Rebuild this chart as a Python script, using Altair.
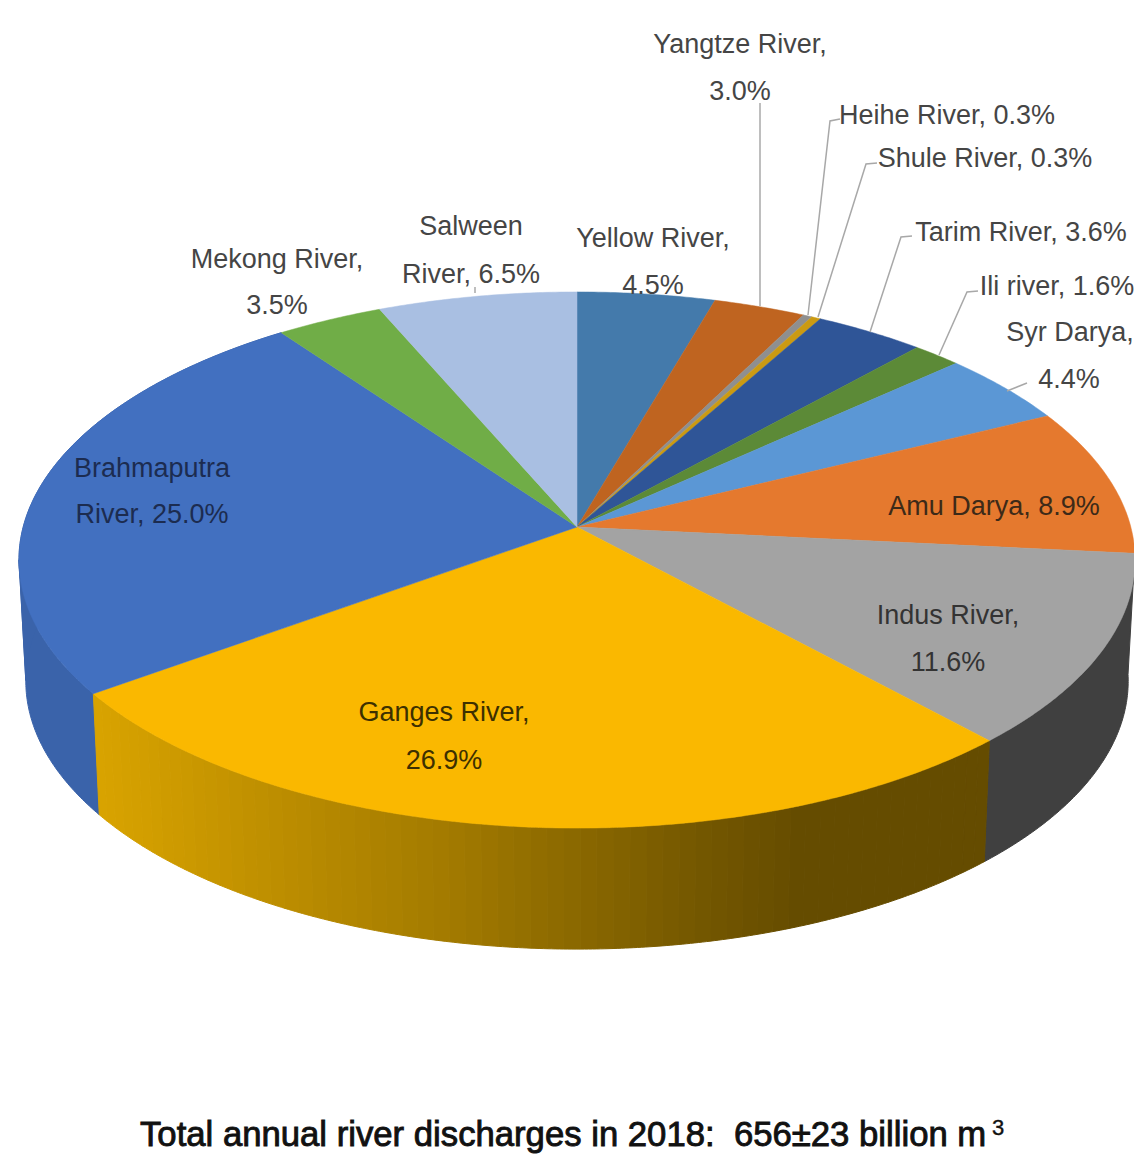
import math
import altair as alt

# River discharge shares in percent, clockwise from twelve o'clock
rivers = ["Yellow River", "Yangtze River", "Heihe River", "Shule River", "Tarim River",
          "Ili river", "Syr Darya", "Amu Darya", "Indus River", "Ganges River",
          "Brahmaputra River", "Mekong River", "Salween River"]
shares = [4.5, 3.0, 0.3, 0.3, 3.6, 1.6, 4.4, 8.9, 11.6, 26.9, 25.0, 3.5, 6.5]
top_colors = ["#447AAB", "#BF6420", "#8F8F8F", "#CB9A12", "#2F5597", "#5C8A37", "#5B97D5",
              "#E5792E", "#A3A3A3", "#FAB800", "#4270C0", "#70AD47", "#A9BFE2"]

# Side-wall colours for the slices that face the viewer
INDUS_WALL = "#404040"
BRAHMAPUTRA_WALL = "#3A63AA"
ganges_shade_x = [92, 200, 300, 450, 570, 700, 800, 990]
ganges_shade = ["#D9A400", "#C99700", "#B98B00", "#A27A00", "#8B6900", "#745700", "#654C00", "#654C00"]

# Perspective of the disc: centre, half-axes and foreshortening
CX, TOP_CY, A, B, K = 577, 527, 553.8, 264, 0.1232
BOTTOM_CY, BOTTOM_A, BOTTOM_B = 648, 547, 264
LEFT_SILHOUETTE = 263  # angle at which the rim turns away from the viewer

# Text lines: (text, river whose share fills {}, centre x, centre y, colour)
label_lines = [
    ("Yangtze River,", None, 740, 44, "#454545"),
    ("{}", "Yangtze River", 740, 91, "#454545"),
    ("Heihe River, {}", "Heihe River", 947, 115, "#454545"),
    ("Shule River, {}", "Shule River", 985, 158, "#454545"),
    ("Tarim River, {}", "Tarim River", 1021, 232, "#454545"),
    ("Ili river, {}", "Ili river", 1057, 286, "#454545"),
    ("Syr Darya,", None, 1070, 332, "#454545"),
    ("{}", "Syr Darya", 1069, 379, "#454545"),
    ("Amu Darya, {}", "Amu Darya", 994, 506, "#3D2A18"),
    ("Indus River,", None, 948, 615, "#333333"),
    ("{}", "Indus River", 948, 662, "#333333"),
    ("Ganges River,", None, 444, 712, "#3D3000"),
    ("{}", "Ganges River", 444, 760, "#3D3000"),
    ("Brahmaputra", None, 152, 468, "#1C2C50"),
    ("River, {}", "Brahmaputra River", 152, 514, "#1C2C50"),
    ("Mekong River,", None, 277, 259, "#454545"),
    ("{}", "Mekong River", 277, 305, "#454545"),
    ("Salween", None, 471, 226, "#454545"),
    ("River, {}", "Salween River", 471, 274, "#454545"),
    ("Yellow River,", None, 653, 238, "#454545"),
    ("{}", "Yellow River", 653, 285, "#454545"),
]

# Leader lines from labels to the rim
leaders = [
    [(760, 103), (760, 306)],
    [(840, 119), (830, 121), (808, 315)],
    [(877, 163), (866, 164), (818, 317)],
    [(912, 236), (901, 237), (870, 332)],
    [(978, 291), (967, 292), (939, 355)],
    [(1027, 383), (1007, 391)],
    [(475, 287), (475, 293)],
]

TITLE = "Total annual river discharges in 2018:\u00a0\u00a0656\u00b123 billion m"
TITLE_EXPONENT = "3"


def rim(theta_deg, cy, a, b):
    t = math.radians(theta_deg)
    u, v = math.sin(t), math.cos(t)
    w = 1 + K * v
    return [CX + a * u / w, cy - b * v / w]


def arc(t0, t1, cy, a, b):
    n = max(2, math.ceil((t1 - t0) / 0.5))
    return [rim(t0 + (t1 - t0) * i / n, cy, a, b) for i in range(n + 1)]


def polygon(points, fill):
    return {"type": "Feature", "properties": {"fill": fill},
            "geometry": {"type": "Polygon", "coordinates": [points + [points[0]]]}}


def wall(t0, t1, fill):
    return polygon(arc(t0, t1, TOP_CY, A, B) + arc(t0, t1, BOTTOM_CY, BOTTOM_A, BOTTOM_B)[::-1], fill)


def hex_mix(c0, c1, f):
    p0 = [int(c0[i:i + 2], 16) for i in (1, 3, 5)]
    p1 = [int(c1[i:i + 2], 16) for i in (1, 3, 5)]
    return "#%02X%02X%02X" % tuple(round(a + (b - a) * f) for a, b in zip(p0, p1))


def shade_at(x):
    for i in range(len(ganges_shade_x) - 1):
        if x <= ganges_shade_x[i + 1]:
            f = max(0, (x - ganges_shade_x[i]) / (ganges_shade_x[i + 1] - ganges_shade_x[i]))
            return hex_mix(ganges_shade[i], ganges_shade[i + 1], f)
    return ganges_shade[-1]


total = sum(shares)
spans = {}
cum = 0.0
top_features = []
for name, share, color in zip(rivers, shares, top_colors):
    t0, t1 = cum / total * 360, (cum + share) / total * 360
    spans[name] = (t0, t1)
    top_features.append(polygon([[CX, TOP_CY]] + arc(t0, t1, TOP_CY, A, B), color))
    cum += share

# The Brahmaputra wall folds at the silhouette, so it is drawn in two parts
b0, b1 = spans["Brahmaputra River"]
wall_features = [
    wall(*spans["Indus River"], INDUS_WALL),
    wall(b0, LEFT_SILHOUETTE, BRAHMAPUTRA_WALL),
    wall(LEFT_SILHOUETTE, b1, BRAHMAPUTRA_WALL),
]

# The Ganges wall darkens in bands from left to right
g0, g1 = spans["Ganges River"]
BANDS = 64
for i in range(BANDS):
    s0 = g0 + (g1 - g0) * i / BANDS
    s1 = g0 + (g1 - g0) * (i + 1) / BANDS
    wall_features.append(wall(s0, s1, shade_at(rim((s0 + s1) / 2, TOP_CY, A, B)[0])))

leader_features = [{"type": "Feature", "properties": {},
                    "geometry": {"type": "LineString", "coordinates": [list(p) for p in line]}}
                   for line in leaders]

share_by_river = dict(zip(rivers, shares))
text_rows = [{"text": t.format(f"{share_by_river[r]:.1f}%") if r else t, "x": x, "y": y, "color": c}
             for t, r, x, y, c in label_lines]

fill_enc = alt.Fill("properties.fill:N", scale=None, legend=None)
stroke_enc = alt.Stroke("properties.fill:N", scale=None, legend=None)

walls = alt.Chart(alt.Data(values=wall_features)).mark_geoshape(strokeWidth=1).encode(
    fill=fill_enc, stroke=stroke_enc)
tops = alt.Chart(alt.Data(values=top_features)).mark_geoshape(strokeWidth=0.5).encode(
    fill=fill_enc, stroke=stroke_enc)
leader_lines = alt.Chart(alt.Data(values=leader_features)).mark_geoshape(
    filled=False, stroke="#A8A8A8", strokeWidth=1.5)
labels = alt.Chart(alt.Data(values=text_rows)).mark_text(
    font="Liberation Sans", fontSize=27, align="center", baseline="middle", dy=1).encode(
    longitude="x:Q", latitude="y:Q", text="text:N",
    color=alt.Color("color:N", scale=None, legend=None))
title = alt.Chart(alt.Data(values=[{"text": TITLE, "x": 140, "y": 1136}])).mark_text(
    font="Liberation Sans", fontSize=34.7, color="#111111", stroke="#111111", strokeWidth=0.9,
    align="left", baseline="middle").encode(longitude="x:Q", latitude="y:Q", text="text:N")
exponent = alt.Chart(alt.Data(values=[{"text": TITLE_EXPONENT, "x": 998, "y": 1128}])).mark_text(
    font="Liberation Sans", fontSize=22, color="#111111", stroke="#111111", strokeWidth=0.4,
    align="center", baseline="middle").encode(longitude="x:Q", latitude="y:Q", text="text:N")

chart = alt.layer(walls, tops, leader_lines, labels, title, exponent).project(
    type="identity", scale=1, translate=[0, 0]
).properties(
    width=1134, height=1169, padding=0, background="white",
    autosize=alt.AutoSizeParams(type="none")
).configure_view(stroke=None)

chart.save("out.html", embed_options={"renderer": "svg", "actions": False})
